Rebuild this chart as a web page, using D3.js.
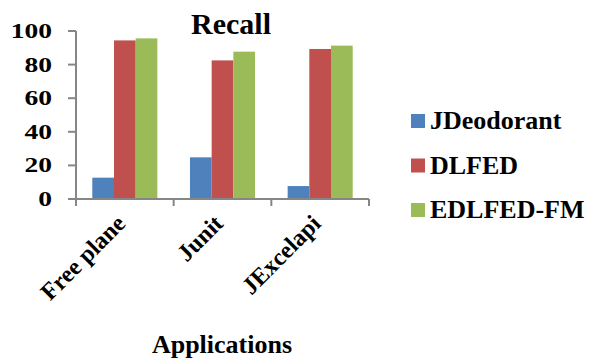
<!DOCTYPE html>
<html>
<head>
<meta charset="utf-8">
<script src="https://cdn.jsdelivr.net/npm/d3@7"></script>
<style>
  html, body { margin: 0; padding: 0; background: #fff; }
</style>
</head>
<body>
<svg id="chart" width="589" height="358"></svg>
<script>
// Recall (%) per application for each tool
const applications = ["Free plane", "Junit", "JExcelapi"];
const seriesNames = ["JDeodorant", "DLFED", "EDLFED-FM"];
const jdeodorant = [12.7, 24.8, 7.7];
const dlfed = [94.4, 82.5, 89.3];
const edlfedFm = [95.6, 87.7, 91.3];
const yTicks = [0, 20, 40, 60, 80, 100];
const seriesColors = ["#4F81BD", "#C0504D", "#9BBB59"];

const seriesValues = [jdeodorant, dlfed, edlfedFm];
const rows = applications.map((app, i) => ({
  app,
  values: seriesNames.map((name, s) => ({ name, value: seriesValues[s][i] }))
}));

const svg = d3.select("#chart");
const axisColor = "#868686";

function serif(sel, size) {
  return sel.attr("font-family", "Liberation Serif").attr("font-weight", "bold")
    .attr("font-size", size).attr("fill", "#000");
}

const x0 = d3.scaleBand().domain(applications).range([76, 369]);
const y = d3.scaleLinear().domain([0, 100]).range([199, 31]);
const groupPad = 0.167;
const x1 = d3.scaleBand().domain(seriesNames)
  .range([x0.bandwidth() * groupPad, x0.bandwidth() * (1 - groupPad)]);
const color = d3.scaleOrdinal().domain(seriesNames).range(seriesColors);

// title
serif(svg.append("text"), 30).attr("x", 231).attr("y", 34).attr("text-anchor", "middle")
  .text("Recall");

// bars
svg.append("g").selectAll("g").data(rows).join("g")
  .attr("transform", d => `translate(${x0(d.app)},0)`)
  .selectAll("rect").data(d => d.values).join("rect")
  .attr("x", d => x1(d.name))
  .attr("width", x1.bandwidth())
  .attr("y", d => y(d.value))
  .attr("height", d => y(0) - y(d.value))
  .attr("fill", d => color(d.name));

// y axis: line, ticks and labels from the linear scale
const yAxis = svg.append("g");
yAxis.append("line").attr("x1", 76).attr("x2", 76).attr("y1", y(100)).attr("y2", y(0))
  .attr("stroke", axisColor).attr("stroke-width", 2);
yAxis.selectAll("line.tk").data(yTicks).join("line").attr("class", "tk")
  .attr("x1", 68).attr("x2", 76).attr("y1", d => y(d)).attr("y2", d => y(d))
  .attr("stroke", axisColor).attr("stroke-width", 2);
serif(yAxis.selectAll("text").data(yTicks).join("text"), 22)
  .attr("text-anchor", "end")
  .attr("transform", d => `translate(52,${y(d) + 7}) scale(1.25,1)`)
  .text(d => d);

// x axis with boundary ticks between categories
const xAxisG = svg.append("g").attr("transform", `translate(0,${y(0)})`);
xAxisG.append("line").attr("x1", 76).attr("x2", 369).attr("y1", 0).attr("y2", 0)
  .attr("stroke", axisColor).attr("stroke-width", 2);
const boundaries = applications.map(a => x0(a)).concat([x0.range()[1]]);
xAxisG.selectAll("line.tk").data(boundaries).join("line").attr("class", "tk")
  .attr("x1", d => d).attr("x2", d => d).attr("y1", 0).attr("y2", 7)
  .attr("stroke", axisColor).attr("stroke-width", 2);

// rotated category labels
serif(xAxisG.selectAll("text.cat").data(applications).join("text").attr("class", "cat"), 24)
  .attr("transform", d => `translate(${x0(d) + x0.bandwidth() / 2 + 2},26) rotate(-45)`)
  .attr("text-anchor", "end")
  .text(d => d);

// x axis title
serif(svg.append("text"), 26).attr("x", 222).attr("y", 353).attr("text-anchor", "middle")
  .text("Applications");

// legend
const legend = svg.append("g").attr("transform", "translate(411,0)");
const legendRows = legend.selectAll("g").data(seriesNames).join("g")
  .attr("transform", (d, i) => `translate(0,${129 + i * 44.5})`);
legendRows.append("rect").attr("x", 0).attr("y", -15).attr("width", 14).attr("height", 14)
  .attr("fill", d => color(d));
serif(legendRows.append("text"), 26).attr("x", 19).attr("y", 0).text(d => d);
</script>
</body>
</html>
